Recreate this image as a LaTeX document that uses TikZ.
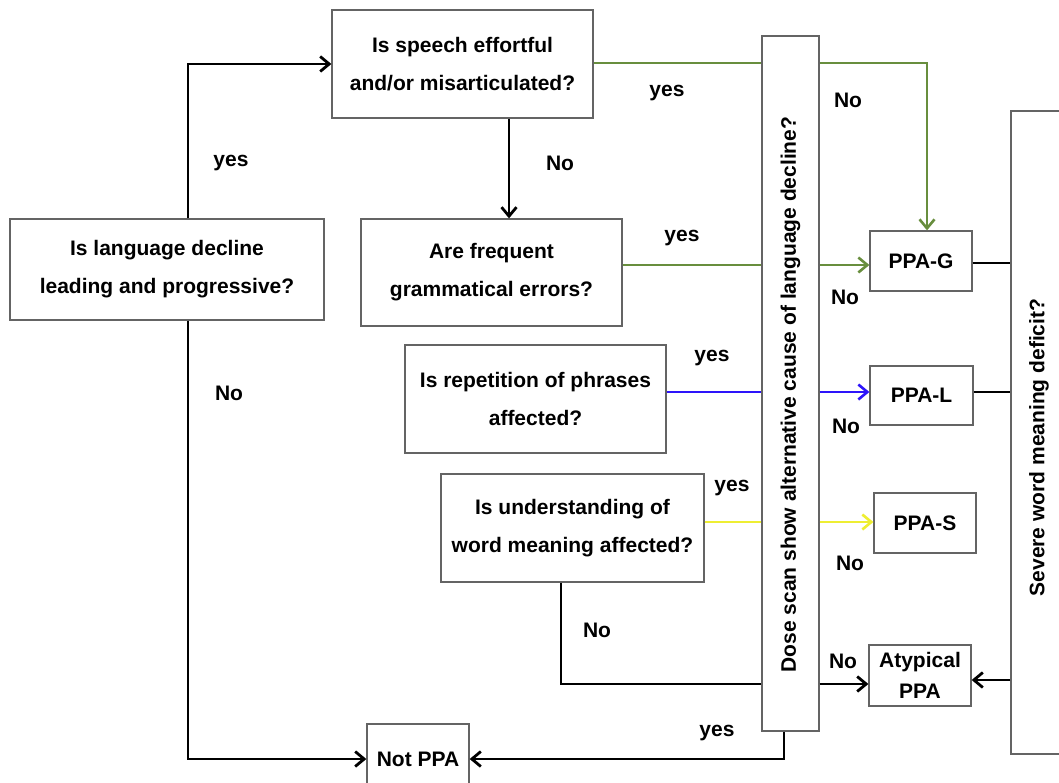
\documentclass[tikz,border=0pt]{standalone}
\usepackage{fontspec}
\setmainfont{Liberation Sans}
\usetikzlibrary{arrows.meta,calc}
\definecolor{boxgray}{RGB}{100,100,100}
\definecolor{pgreen}{RGB}{104,142,62}
\definecolor{pblue}{RGB}{45,20,250}
\definecolor{pyellow}{RGB}{238,238,50}
\begin{document}
\begin{tikzpicture}[x=1pt,y=-1pt,
  box/.style={draw=boxgray,line width=1.3pt,fill=white,inner sep=0pt,align=center,
    font=\bfseries\fontsize{21}{38}\selectfont},
  lbl/.style={font=\bfseries\fontsize{21}{24}\selectfont,inner sep=0pt},
  conn/.style={line width=2.8pt,black},
  gline/.style={line width=2.6pt,pgreen},
  bline/.style={line width=2.6pt,pblue},
  yline/.style={line width=2.6pt,pyellow},
  arr/.style={-{Straight Barb[length=9pt,width=15pt]}}]
\clip (0,0) rectangle (1059,783);
\fill[white] (0,0) rectangle (1059,783);

% boxes
\node[box,minimum width=314pt,minimum height=101pt] (A) at (167,269.5)
  {Is language decline\\leading and progressive?};
\node[box,minimum width=261pt,minimum height=108pt] (B) at (462.5,64)
  {Is speech effortful\\and/or misarticulated?};
\node[box,minimum width=261pt,minimum height=107pt] (C) at (491.5,272.5)
  {Are frequent\\grammatical errors?};
\node[box,minimum width=261pt,minimum height=108pt] (D) at (535.5,399)
  {Is repetition of phrases\\affected?};
\node[box,minimum width=263pt,minimum height=108pt] (E) at (572.5,528)
  {Is understanding of\\word meaning affected?};
\node[box,minimum width=102pt,minimum height=70pt] (NP) at (418,759)
  {Not PPA};
\node[box,rotate=90,minimum width=695pt,minimum height=57pt] (T) at (790.5,383.5)
  {Dose scan show alternative cause of language decline?\hspace*{22pt}};
\node[box,rotate=90,minimum width=643pt,minimum height=56pt] (R) at (1039,432.5)
  {Severe word meaning deficit?\hspace*{30pt}};
\node[box,minimum width=102pt,minimum height=60pt] (G) at (921,261) {PPA-G};
\node[box,minimum width=103pt,minimum height=59pt] (L) at (921.5,395.5) {PPA-L};
\node[box,minimum width=102pt,minimum height=60pt] (S) at (925,523) {PPA-S};
\node[box,minimum width=102pt,minimum height=61pt,font=\bfseries\fontsize{21}{31}\selectfont] (AP) at (920,675.5) {Atypical\\PPA};

% helper coordinates
\coordinate (xa) at (188,0);
\coordinate (xb) at (509,0);
\coordinate (xg) at (927,0);
\coordinate (xe) at (561,0);
\coordinate (xt) at (784,0);
\coordinate (y1) at (0,63);
\coordinate (y2) at (0,265);
\coordinate (y3) at (0,392);
\coordinate (y4) at (0,522);
\coordinate (y5) at (0,684);
\coordinate (y6) at (0,680);
\coordinate (y7) at (0,263);

% connectors (T.north = left side, T.south = right side, T.west = bottom)
\draw[conn,arr] (xa |- A.north) |- (B.west);
\draw[conn,arr] (xa |- A.south) |- (NP.west);
\draw[conn,arr] (xb |- B.south) -- (xb |- C.north);
\draw[gline] (B.east |- y1) -- (T.north |- y1);
\draw[gline,arr] (T.south |- y1) -| (xg |- G.north);
\draw[gline] (C.east |- y2) -- (T.north |- y2);
\draw[gline,arr] (T.south |- y2) -- (G.west |- y2);
\draw[bline] (D.east |- y3) -- (T.north |- y3);
\draw[bline,arr] (T.south |- y3) -- (L.west |- y3);
\draw[yline] (E.east |- y4) -- (T.north |- y4);
\draw[yline,arr] (T.south |- y4) -- (S.west |- y4);
\draw[conn] (xe |- E.south) |- (T.north |- y5);
\draw[conn,arr] (T.south |- y5) -- (AP.west |- y5);
\draw[conn,arr] (R.north |- y6) -- (AP.east |- y6);
\draw[conn] (G.east |- y7) -- (R.north |- y7);
\draw[conn] (L.east |- y3) -- (R.north |- y3);
\draw[conn,arr] (xt |- T.west) |- (NP.east);

% labels
\node[lbl] (l1) at (231,163) {yes};
\node[lbl] (l2) at (229,393) {No};
\node[lbl] (l3) at (560,163) {No};
\node[lbl] (l4) at (667,93) {yes};
\node[lbl] (l5) at (848,100) {No};
\node[lbl] (l6) at (682,238) {yes};
\node[lbl] (l7) at (845,297) {No};
\node[lbl] (l8) at (712,358) {yes};
\node[lbl] (l9) at (846,426) {No};
\node[lbl] (l10) at (732,488) {yes};
\node[lbl] (l11) at (850,563) {No};
\node[lbl] (l12) at (597,630) {No};
\node[lbl] (l13) at (843,661) {No};
\node[lbl] (l14) at (717,733) {yes};
\end{tikzpicture}
\end{document}
